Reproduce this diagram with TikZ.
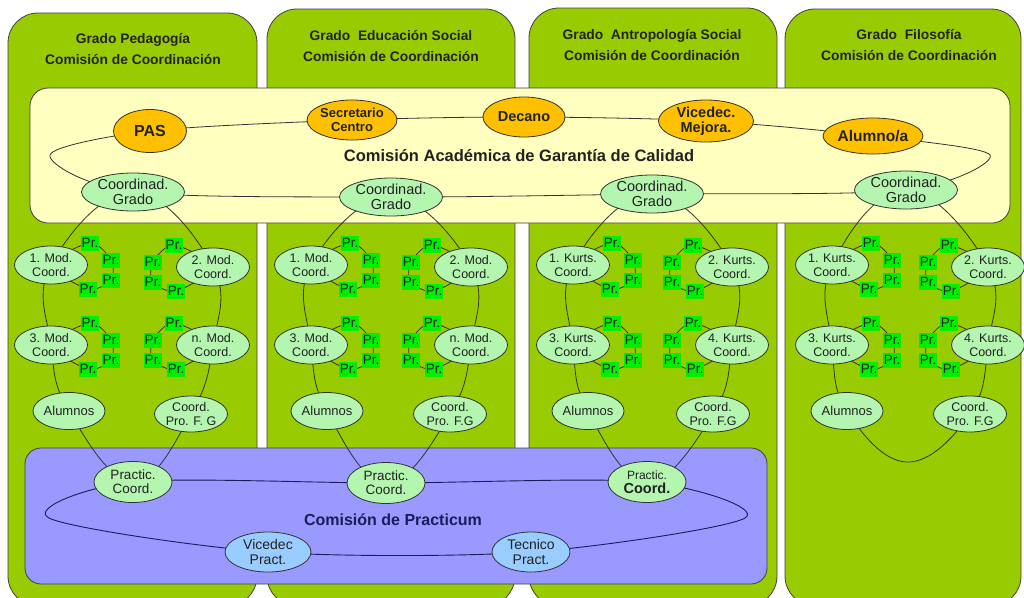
\documentclass[tikz,border=0pt]{standalone}
\usepackage{fontspec}
\setmainfont{Liberation Sans}
\usetikzlibrary{shapes.geometric,calc}
\pgfdeclarelayer{panels}
\pgfdeclarelayer{links}
\pgfsetlayers{panels,links,main}
\definecolor{colgreen}{RGB}{153,204,0}
\definecolor{panelyellow}{RGB}{255,255,192}
\definecolor{panelpurple}{RGB}{153,153,255}
\definecolor{orangeN}{RGB}{255,192,0}
\definecolor{greenN}{RGB}{180,245,175}
\definecolor{blueN}{RGB}{153,204,255}
\definecolor{prgreen}{RGB}{0,238,0}
\definecolor{inkC}{RGB}{34,34,34}
\definecolor{navyC}{RGB}{28,28,90}
\newcommand\fsz[2]{\fontsize{#1}{#2}\selectfont}
\tikzset{
  colbox/.style={draw=black!75, line width=0.8pt, fill=colgreen, rounded corners=30pt},
  ypanel/.style={draw=black!75, line width=0.8pt, fill=panelyellow, rounded corners=18pt},
  ppanel/.style={draw=black!75, line width=0.8pt, fill=panelpurple, rounded corners=16pt},
  ell/.style={ellipse, draw=black!80, line width=0.8pt, inner sep=0pt, align=center, text=inkC},
  onode/.style={ell, fill=orangeN},
  gnode/.style={ell, fill=greenN, minimum width=103pt, minimum height=38pt, font=\fsz{14.5}{15}},
  modnode/.style={ell, fill=greenN, minimum width=73pt, minimum height=38pt, font=\fsz{12.5}{14}},
  pcnode/.style={ell, fill=greenN, minimum width=78pt, minimum height=41pt, font=\fsz{13.5}{14}},
  bnode/.style={ell, fill=blueN, minimum height=40pt, font=\fsz{14}{14.5}},
  prbox/.style={fill=prgreen, inner sep=0.3pt, minimum width=17pt, minimum height=15pt, font=\fsz{13.5}{13.5}, text=black!85},
  ring/.style={draw=black!80, line width=0.8pt},
  pring/.style={draw=navyC, line width=0.9pt},
  coltitle/.style={align=center, font=\bfseries\fsz{13.8}{21}, text=inkC},
  bigtitle/.style={font=\bfseries\fsz{16.5}{18}, text=inkC},
}
\begin{document}
\begin{tikzpicture}[x=1pt,y=-1pt]
\useasboundingbox (0,0) rectangle (1024,597);
\begin{pgfonlayer}{panels}
  \fill[white] (0,0) rectangle (1024,597);
  \draw[colbox] (8,13) rectangle (257,606);
  \draw[colbox] (267,9) rectangle (515,606);
  \draw[colbox] (529,8) rectangle (777,606);
  \draw[colbox] (785,9) rectangle (1021,606);
  \draw[ypanel] (30,88) rectangle (1010,223);
  \draw[ppanel] (25,448) rectangle (767,584);
\end{pgfonlayer}

% column titles
\node[coltitle] (t1) at (133,49.5) {Grado Pedagogía\\Comisión de Coordinación};
\node[coltitle] (t2) at (391,46) {Grado\ \ Educación Social\\Comisión de Coordinación};
\node[coltitle] (t3) at (652,45) {Grado\ \ Antropología Social\\Comisión de Coordinación};
\node[coltitle] (t4) at (909,45) {Grado\ \ Filosofía\\Comisión de Coordinación};

% quality commission
\node[onode, minimum width=73pt, minimum height=43pt, font=\bfseries\fsz{16}{16}] (pas) at (150,131) {PAS};
\node[onode, minimum width=90pt, minimum height=40pt, font=\bfseries\fsz{13}{13.5}] (sec) at (352,120) {Secretario\\Centro};
\node[onode, minimum width=82pt, minimum height=40pt, font=\bfseries\fsz{14.5}{15}] (dec) at (524,117) {Decano};
\node[onode, minimum width=95pt, minimum height=42pt, font=\bfseries\fsz{14.5}{15}] (vic) at (706,121) {Vicedec.\\Mejora.};
\node[onode, minimum width=97pt, minimum height=36pt, font=\bfseries\fsz{15.5}{16}] (alu) at (873,136) {Alumno/a};
\node[gnode] (cg1) at (133,192) {Coordinad.\\Grado};
\node[gnode] (cg2) at (391,197) {Coordinad.\\Grado};
\node[gnode] (cg3) at (652,194) {Coordinad.\\Grado};
\node[gnode] (cg4) at (906,190) {Coordinad.\\Grado};
\coordinate (yL) at (50,155);
\coordinate (yR) at (990,155);
\node[bigtitle] (cac) at (519,156) {Comisión Académica de Garantía de Calidad};
\begin{pgfonlayer}{links}
  \draw[ring] plot[smooth cycle] coordinates {(pas) (sec) (dec) (vic) (alu) (yR) (cg4) (cg3) (cg2) (cg1) (yL)};
\end{pgfonlayer}

% practicum commission
\node[pcnode] (pc-1) at (133,482) {Practic.\\Coord.};
\node[pcnode] (pc-2) at (386,483) {Practic.\\Coord.};
\node[pcnode] (pc-3) at (647,482) {{\fsz{12}{14}Practic.}\\{\fsz{14.5}{14}\bfseries Coord.}};
\coordinate (pc-4) at (907,462);
\node[bnode, minimum width=86pt] (vip) at (268,552) {Vicedec\\Pract.};
\node[bnode, minimum width=78pt] (tec) at (531,552) {Tecnico\\Pract.};
\coordinate (pL) at (49,518);
\coordinate (pR) at (745,518);
\node[bigtitle, text=navyC, font=\bfseries\fsz{16}{18}] (cpt) at (393,520) {Comisión de Practicum};
\begin{pgfonlayer}{links}
  \draw[pring] plot[smooth cycle] coordinates {(pc-1) (pc-2) (pc-3) (pR) (tec) (vip) (pL)};
\end{pgfonlayer}

% coordination rings of each degree
\foreach \c/\ma/\mb/\al/\cp/\lbl/\ll/\pf in {1/51/213/69/191/Mod/n/{Pro. F. G},
    2/311/471/327/450/Mod/n/{Pro. F.G},
    3/573/732/588/713/Kurts/4/{Pro. F.G},
    4/832/988/847/970/Kurts/4/{Pro. F.G}} {
  \node[modnode] (m1-\c) at (\ma,265) {1. \lbl.\\Coord.};
  \node[modnode] (m2-\c) at (\mb,267) {2. \lbl.\\Coord.};
  \node[modnode] (m3-\c) at (\ma,345) {3. \lbl.\\Coord.};
  \node[modnode] (m4-\c) at (\mb,345) {\ll. \lbl.\\Coord.};
  \node[modnode, minimum width=72pt, minimum height=37pt, font=\fsz{13}{14}] (al-\c) at (\al,411) {Alumnos};
  \node[modnode, minimum height=36pt] (cp-\c) at (\cp,414) {Coord.\\\pf};
  \begin{pgfonlayer}{links}
    \draw[ring] plot[smooth cycle, tension=0.7] coordinates {(cg\c) (m1-\c) (m3-\c) (al-\c) (pc-\c) (cp-\c) (m4-\c) (m2-\c)};
  \end{pgfonlayer}
  \foreach \m/\s in {m1/1,m3/1,m2/-1,m4/-1} {
    \node[prbox] (\m-\c-a) at ($(\m-\c)+(\s*39,-22)$) {Pr.};
    \node[prbox] (\m-\c-b) at ($(\m-\c)+(\s*60,-5)$) {Pr.};
    \node[prbox] (\m-\c-c) at ($(\m-\c)+(\s*60,15)$) {Pr.};
    \node[prbox] (\m-\c-d) at ($(\m-\c)+(\s*37,24)$) {Pr.};
    \begin{pgfonlayer}{links}
      \draw[ring] plot[smooth cycle] coordinates {(\m-\c) (\m-\c-a) (\m-\c-b) (\m-\c-c) (\m-\c-d)};
    \end{pgfonlayer}
  }
}
\end{tikzpicture}
\end{document}
